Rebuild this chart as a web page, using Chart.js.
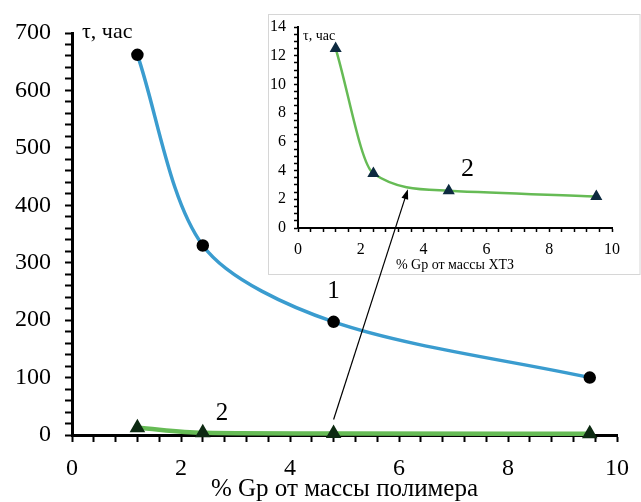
<!DOCTYPE html>
<html>
<head>
<meta charset="utf-8">
<script src="https://cdn.jsdelivr.net/npm/chart.js@4/dist/chart.umd.min.js"></script>
<style>
  html, body { margin: 0; padding: 0; background: #fff; }
  #wrap { position: relative; width: 641px; height: 502px; }
  #wrap canvas { position: absolute; left: 0; top: 0; }
</style>
</head>
<body>
<div id="wrap">
  <canvas id="mainChart" width="641" height="502"></canvas>
  <canvas id="insetChart" width="641" height="502"></canvas>
</div>
<script>
// % Gp, hours to failure
var gpPercent = [1.2, 2.4, 4.8, 9.5];
var tauPolymer = [662, 330, 197, 100];   // curve 1
var tauXtz = [12.5, 3.8, 2.6, 2.2];      // curve 2

var serif = "'Liberation Serif', 'Times New Roman', serif";
var blue = '#3a9ccf';
var green = '#66bb55';

function toPoints(xs, ys) {
    return xs.map(function (x, i) { return { x: x, y: ys[i] }; });
}

function evenLabel(step) {
    return function (v) {
        var k = v / step;
        return Math.abs(k - Math.round(k)) < 1e-6 ? Math.round(v) : '';
    };
}

// numbers "1" / "2" next to the curves, placed in data units
var curveNumbers = {
    id: 'curveNumbers',
    afterDatasetsDraw: function (chart, args, opts) {
        var ctx = chart.ctx;
        var xs = chart.scales.x, ys = chart.scales.y;
        ctx.save();
        ctx.fillStyle = '#000';
        ctx.textAlign = 'center';
        ctx.textBaseline = 'middle';
        ctx.font = opts.size + 'px ' + serif;
        opts.items.forEach(function (it) {
            ctx.fillText(it.text, xs.getPixelForValue(it.x), ys.getPixelForValue(it.y));
        });
        // axis caption at the top of the y axis
        ctx.font = opts.captionSize + 'px ' + serif;
        ctx.textAlign = 'left';
        ctx.fillText('τ, час', chart.chartArea.left + opts.captionDx, ys.getPixelForValue(ys.max) + opts.captionDy);
        ctx.restore();
    }
};

var mainChart = new Chart(document.getElementById('mainChart').getContext('2d'), {
    type: 'scatter',
    data: {
        datasets: [{
            label: '1',
            data: toPoints(gpPercent, tauPolymer),
            showLine: true,
            borderColor: blue,
            borderWidth: 3.5,
            tension: 0.3,
            pointStyle: 'circle',
            pointRadius: 4.5,
            pointBackgroundColor: '#000',
            pointBorderColor: '#000',
            clip: false
        }, {
            label: '2',
            data: toPoints(gpPercent, tauXtz),
            showLine: true,
            borderColor: green,
            borderWidth: 4.5,
            cubicInterpolationMode: 'monotone',
            pointStyle: 'triangle',
            pointRadius: 4.5,
            pointBackgroundColor: '#0d2a12',
            pointBorderColor: '#0d2a12',
            clip: false
        }]
    },
    options: {
        responsive: false,
        animation: false,
        devicePixelRatio: 1,
        layout: { padding: { top: 33, right: 16, left: 0, bottom: 0 } },
        plugins: {
            legend: { display: false },
            tooltip: { enabled: false },
            curveNumbers: {
                size: 25,
                captionSize: 22,
                captionDx: 10,
                captionDy: -1,
                items: [
                    { text: '1', x: 4.8, y: 250 },
                    { text: '2', x: 2.75, y: 38 }
                ]
            }
        },
        scales: {
            x: {
                type: 'linear',
                min: 0,
                max: 10,
                afterFit: function (s) { s.height = 67; },
                border: { color: '#000', width: 3 },
                grid: { drawOnChartArea: false, color: '#000', tickLength: 7, tickWidth: 2 },
                ticks: {
                    stepSize: 0.4,
                    autoSkip: false,
                    maxRotation: 0,
                    padding: 12,
                    color: '#000',
                    font: { family: serif, size: 24 },
                    callback: evenLabel(2)
                },
                title: {
                    display: true,
                    text: '% Gp от массы полимера',
                    color: '#000',
                    font: { family: serif, size: 25, lineHeight: 1 },
                    padding: 0
                }
            },
            y: {
                type: 'linear',
                min: 0,
                max: 700,
                afterFit: function (s) { s.width = 72; },
                border: { color: '#000', width: 3 },
                grid: { drawOnChartArea: false, color: '#000', tickLength: 7, tickWidth: 2 },
                ticks: {
                    stepSize: 20,
                    autoSkip: false,
                    padding: 14,
                    color: '#000',
                    font: { family: serif, size: 24 },
                    callback: evenLabel(100)
                }
            }
        }
    },
    plugins: [curveNumbers]
});

// white panel behind the inset plot
var insetPanel = {
    id: 'insetPanel',
    beforeDraw: function (chart, args, opts) {
        var a = chart.chartArea, ctx = chart.ctx;
        var l = a.left - opts.left, t = a.top - opts.top;
        var r = chart.width - 0.5, b = a.bottom + opts.bottom;
        ctx.save();
        ctx.fillStyle = '#fff';
        ctx.fillRect(l, t, r - l, b - t);
        ctx.strokeStyle = '#d6d6d6';
        ctx.lineWidth = 1;
        ctx.strokeRect(l + 0.5, t + 0.5, r - l - 1, b - t - 1);
        ctx.restore();
    }
};

// arrow from curve 2 of the main plot to the same curve in the inset
var insetArrow = {
    id: 'insetArrow',
    afterDraw: function (chart, args, opts) {
        var ms = mainChart.scales;
        var x0 = ms.x.getPixelForValue(gpPercent[opts.fromIndex]);
        var y0 = ms.y.getPixelForValue(tauXtz[opts.fromIndex]) - opts.gap;
        var x1 = chart.scales.x.getPixelForValue(opts.to.x);
        var y1 = chart.scales.y.getPixelForValue(opts.to.y);
        var ang = Math.atan2(y1 - y0, x1 - x0);
        var ctx = chart.ctx;
        ctx.save();
        ctx.strokeStyle = '#000';
        ctx.fillStyle = '#000';
        ctx.lineWidth = 1.2;
        ctx.beginPath();
        ctx.moveTo(x0, y0);
        ctx.lineTo(x1 - 8 * Math.cos(ang), y1 - 8 * Math.sin(ang));
        ctx.stroke();
        ctx.beginPath();
        ctx.moveTo(x1, y1);
        ctx.lineTo(x1 - 10 * Math.cos(ang) + 3.5 * Math.sin(ang), y1 - 10 * Math.sin(ang) - 3.5 * Math.cos(ang));
        ctx.lineTo(x1 - 10 * Math.cos(ang) - 3.5 * Math.sin(ang), y1 - 10 * Math.sin(ang) + 3.5 * Math.cos(ang));
        ctx.closePath();
        ctx.fill();
        ctx.restore();
    }
};

new Chart(document.getElementById('insetChart').getContext('2d'), {
    type: 'scatter',
    data: {
        datasets: [{
            label: '2',
            data: toPoints(gpPercent, tauXtz),
            showLine: true,
            borderColor: green,
            borderWidth: 2.5,
            cubicInterpolationMode: 'monotone',
            pointStyle: 'triangle',
            pointRadius: 4.5,
            pointBackgroundColor: '#0d2a40',
            pointBorderColor: '#0d2a40',
            clip: false
        }]
    },
    options: {
        responsive: false,
        animation: false,
        devicePixelRatio: 1,
        events: [],
        layout: { padding: { top: 27, right: 29, left: 0, bottom: 0 } },
        plugins: {
            legend: { display: false },
            tooltip: { enabled: false },
            insetPanel: { left: 30, top: 13, bottom: 47 },
            insetArrow: { fromIndex: 2, gap: 14, to: { x: 3.5, y: 2.7 } },
            curveNumbers: {
                size: 26,
                captionSize: 14,
                captionDx: 5,
                captionDy: 9,
                items: [{ text: '2', x: 5.4, y: 4.1 }]
            }
        },
        scales: {
            x: {
                type: 'linear',
                min: 0,
                max: 10,
                afterFit: function (s) { s.height = 274; },
                border: { color: '#000', width: 2 },
                grid: { drawOnChartArea: false, color: '#000', tickLength: 4, tickWidth: 1.5 },
                ticks: {
                    stepSize: 0.4,
                    autoSkip: false,
                    maxRotation: 0,
                    padding: 8,
                    color: '#000',
                    font: { family: serif, size: 16 },
                    callback: evenLabel(2)
                },
                title: {
                    display: true,
                    text: '% Gp от массы ХТЗ',
                    color: '#000',
                    font: { family: serif, size: 14, lineHeight: 1 },
                    padding: { top: 0, bottom: 230 }
                }
            },
            y: {
                type: 'linear',
                min: 0,
                max: 14,
                afterFit: function (s) { s.width = 298; },
                border: { color: '#000', width: 2 },
                grid: { drawOnChartArea: false, color: '#000', tickLength: 4, tickWidth: 1.5 },
                ticks: {
                    stepSize: 0.5,
                    autoSkip: false,
                    padding: 8,
                    color: '#000',
                    font: { family: serif, size: 16 },
                    callback: evenLabel(2)
                }
            }
        }
    },
    plugins: [insetPanel, insetArrow, curveNumbers]
});
</script>
</body>
</html>
